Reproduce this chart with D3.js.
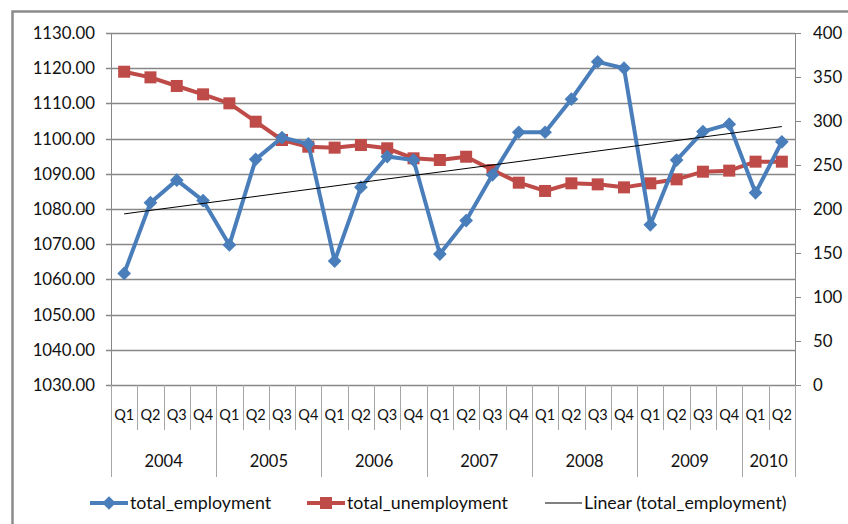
<html>
<head>
  <script src="https://d3js.org/d3.v7.min.js"></script>
  <style>
    body { margin: 0; background: #fff; }
    text { font-family: Lato, "Open Sans", sans-serif; fill: #111; }
  </style>
</head>
<body>
  <script>
    let width = 848;
    let height = 524;

    // quarters and years
    let years = ["2004", "2005", "2006", "2007", "2008", "2009", "2010"];
    let quartersPerYear = [4, 4, 4, 4, 4, 4, 2];
    let quarterNames = ["Q1", "Q2", "Q3", "Q4"];

    let employment = [1061.7, 1081.8, 1088.2, 1082.4, 1069.8, 1094.1, 1100.3, 1098.5,
                      1065.2, 1086.2, 1094.9, 1093.9, 1067.2, 1076.7, 1089.7, 1101.8,
                      1101.8, 1111.2, 1121.8, 1120.0, 1075.5, 1093.9, 1102.0, 1104.1,
                      1084.6, 1099.1];
    let unemployment = [356.0, 349.6, 339.8, 330.3, 320.1, 299.2, 278.4, 270.8,
                        269.7, 272.7, 269.0, 257.6, 255.7, 259.4, 244.3, 229.9,
                        220.5, 229.2, 228.0, 224.6, 229.2, 233.7, 242.4, 243.6,
                        253.8, 253.8];
    let leftTicks = [1030, 1040, 1050, 1060, 1070, 1080, 1090, 1100, 1110, 1120, 1130];
    let rightTicks = [0, 50, 100, 150, 200, 250, 300, 350, 400];

    // build the category list
    let cats = [];
    years.forEach(function(y, i) {
      for (let q = 0; q < quartersPerYear[i]; q++) {
        cats.push({ key: y + "-" + quarterNames[q], year: y, q: quarterNames[q] });
      }
    });

    let pLeft = 111, pRight = 795, pTop = 33, pBottom = 385;
    let axisFont = "16.8px";

    let svg = d3.select("body")
      .append("svg")
      .attr("width", width)
      .attr("height", height);

    // outer frame (top + left only visible)
    svg.append("path")
      .attr("d", "M12.5," + (height + 2) + "V11.5H" + (width + 2))
      .attr("fill", "none")
      .attr("stroke", "#8c8c8c")
      .attr("stroke-width", 2.5);

    let x = d3.scaleBand()
      .domain(cats.map(function(d) { return d.key; }))
      .range([pLeft, pRight]);

    let yL = d3.scaleLinear().domain([1030, 1130]).range([pBottom, pTop]);
    let yR = d3.scaleLinear().domain([0, 400]).range([pBottom, pTop]);

    let cx = function(i) { return x(cats[i].key) + x.bandwidth() / 2; };

    // gridlines
    svg.append("g")
      .selectAll("line")
      .data(leftTicks)
      .enter()
      .append("line")
      .attr("x1", pLeft - 5)
      .attr("x2", pRight)
      .attr("y1", function(d) { return Math.round(yL(d)) + 0.5; })
      .attr("y2", function(d) { return Math.round(yL(d)) + 0.5; })
      .attr("stroke", "#878787")
      .attr("stroke-width", 1.3);

    // left axis labels
    svg.append("g")
      .selectAll("text")
      .data(leftTicks)
      .enter()
      .append("text")
      .attr("x", 95)
      .attr("y", function(d) { return yL(d); })
      .attr("dy", "0.36em")
      .attr("text-anchor", "end")
      .style("font-size", axisFont)
      .text(function(d) { return d3.format(".2f")(d); });

    // axis lines
    svg.append("line")
      .attr("x1", pRight + 0.5).attr("x2", pRight + 0.5)
      .attr("y1", pTop).attr("y2", pBottom)
      .attr("stroke", "#878787");
    svg.append("line")
      .attr("x1", pLeft + 0.5).attr("x2", pLeft + 0.5)
      .attr("y1", pTop).attr("y2", 477)
      .attr("stroke", "#878787");

    svg.append("g")
      .selectAll("line")
      .data(rightTicks)
      .enter()
      .append("line")
      .attr("x1", pRight)
      .attr("x2", pRight + 6)
      .attr("y1", function(d) { return Math.round(yR(d)) + 0.5; })
      .attr("y2", function(d) { return Math.round(yR(d)) + 0.5; })
      .attr("stroke", "#878787");

    svg.append("g")
      .selectAll("text")
      .data(rightTicks)
      .enter()
      .append("text")
      .attr("x", 813)
      .attr("y", function(d) { return yR(d); })
      .attr("dy", "0.36em")
      .style("font-size", axisFont)
      .text(function(d) { return d; });

    // category separators
    let bounds = d3.range(cats.length + 1);
    svg.append("g")
      .selectAll("line")
      .data(bounds)
      .enter()
      .append("line")
      .attr("x1", function(i) { return Math.round(pLeft + i * x.step()) + 0.5; })
      .attr("x2", function(i) { return Math.round(pLeft + i * x.step()) + 0.5; })
      .attr("y1", pBottom)
      .attr("y2", function(i) {
        let isYear = i === 0 || i === cats.length || cats[i].q === "Q1";
        return isYear ? 477 : 430;
      })
      .attr("stroke", "#a6a6a6");

    svg.append("g")
      .selectAll("text")
      .data(cats)
      .enter()
      .append("text")
      .attr("x", function(d, i) { return cx(i); })
      .attr("y", 415)
      .attr("dy", "0.36em")
      .attr("text-anchor", "middle")
      .style("font-size", "14.5px")
      .text(function(d) { return d.q; });

    let start = 0;
    let yearPos = years.map(function(y, i) {
      let s = start;
      start += quartersPerYear[i];
      return { year: y, mid: pLeft + (s + quartersPerYear[i] / 2) * x.step() };
    });
    svg.append("g")
      .selectAll("text")
      .data(yearPos)
      .enter()
      .append("text")
      .attr("x", function(d) { return d.mid; })
      .attr("y", 461)
      .attr("dy", "0.36em")
      .attr("text-anchor", "middle")
      .style("font-size", "16.5px")
      .text(function(d) { return d.year; });

    // linear trend of employment
    let n = employment.length;
    let mx = d3.mean(d3.range(n));
    let my = d3.mean(employment);
    let slope = d3.sum(d3.range(n), function(i) { return (i - mx) * (employment[i] - my); }) /
                d3.sum(d3.range(n), function(i) { return (i - mx) * (i - mx); });
    let icpt = my - slope * mx;

    let blue = "#4a7ebb";
    let red = "#be4b48";

    // unemployment (red)
    svg.append("path")
      .datum(unemployment)
      .attr("fill", "none")
      .attr("stroke", red)
      .attr("stroke-width", 4)
      .attr("stroke-linejoin", "round")
      .attr("d", d3.line()
        .x(function(d, i) { return cx(i); })
        .y(function(d) { return yR(d); }));

    svg.append("g")
      .selectAll("rect")
      .data(unemployment)
      .enter()
      .append("rect")
      .attr("x", function(d, i) { return cx(i) - 6; })
      .attr("y", function(d) { return yR(d) - 6; })
      .attr("width", 12)
      .attr("height", 12)
      .attr("fill", red);

    // employment (blue)
    svg.append("path")
      .datum(employment)
      .attr("fill", "none")
      .attr("stroke", blue)
      .attr("stroke-width", 4)
      .attr("stroke-linejoin", "round")
      .attr("d", d3.line()
        .x(function(d, i) { return cx(i); })
        .y(function(d) { return yL(d); }));

    let diamond = d3.symbol().type(d3.symbolDiamond2).size(120);
    svg.append("g")
      .selectAll("path")
      .data(employment)
      .enter()
      .append("path")
      .attr("transform", function(d, i) { return "translate(" + cx(i) + "," + yL(d) + ")"; })
      .attr("d", diamond)
      .attr("fill", blue);

    // trend line on top
    svg.append("line")
      .attr("x1", cx(0)).attr("y1", yL(icpt))
      .attr("x2", cx(n - 1)).attr("y2", yL(icpt + slope * (n - 1)))
      .attr("stroke", "#000")
      .attr("stroke-width", 1);

    // legend
    let legendFont = "17.8px";
    let lg = svg.append("g");
    lg.append("line").attr("x1", 90).attr("x2", 128).attr("y1", 503).attr("y2", 503)
      .attr("stroke", blue).attr("stroke-width", 4);
    lg.append("path").attr("transform", "translate(109,503)").attr("d", diamond).attr("fill", blue);
    lg.append("text").attr("x", 130).attr("y", 503).attr("dy", "0.36em")
      .style("font-size", legendFont).text("total_employment");

    lg.append("line").attr("x1", 307).attr("x2", 345).attr("y1", 503).attr("y2", 503)
      .attr("stroke", red).attr("stroke-width", 4);
    lg.append("rect").attr("x", 320).attr("y", 497).attr("width", 12).attr("height", 12).attr("fill", red);
    lg.append("text").attr("x", 347).attr("y", 503).attr("dy", "0.36em")
      .style("font-size", legendFont).text("total_unemployment");

    lg.append("line").attr("x1", 545).attr("x2", 582).attr("y1", 503).attr("y2", 503)
      .attr("stroke", "#000").attr("stroke-width", 1);
    lg.append("text").attr("x", 584).attr("y", 503).attr("dy", "0.36em")
      .style("font-size", legendFont).text("Linear (total_employment)");
  </script>
</body>
</html>
